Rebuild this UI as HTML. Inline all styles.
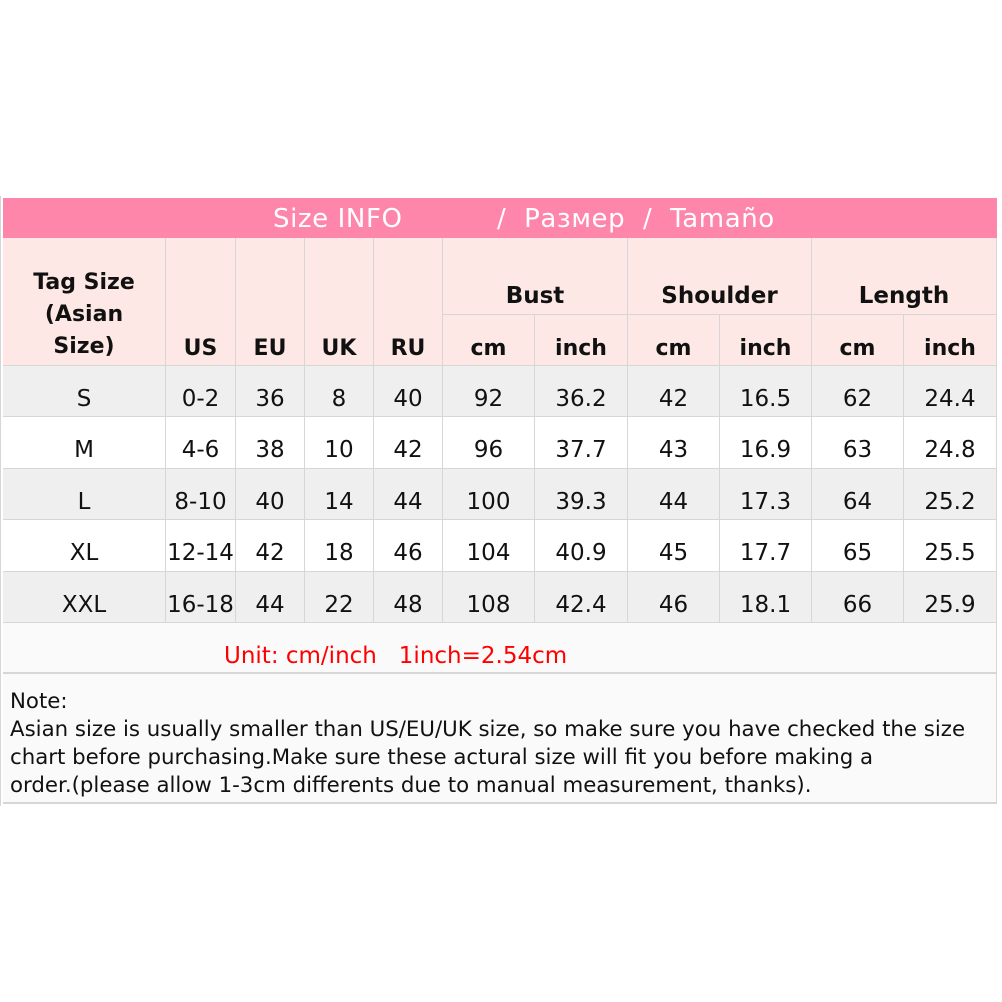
<!DOCTYPE html><html><head><style>
body{margin:0;width:1002px;height:1002px;background:#fff;position:relative;font-family:"DejaVu Sans","Liberation Sans",sans-serif;overflow:hidden}
div{position:absolute;box-sizing:border-box}
.c{display:flex;align-items:center;justify-content:center;font-size:23px;color:#111;border-right:1px solid #d6d6d6;border-bottom:1px solid #d6d6d6}
.d{padding-top:15px}
.h{font-weight:bold;font-size:22px;align-items:flex-end;padding-bottom:4px}
</style></head><body>
<div style="left:0;top:196px;width:1002px;height:610px;border-left:1px solid #d6d6d6"></div>
<div style="left:3px;top:198px;width:994px;height:40px;background:#fe86ab;color:#fff;font-size:26px;line-height:42px;white-space:pre;letter-spacing:0.6px"><span style="position:absolute;left:270px">Size INFO</span><span style="position:absolute;left:494px">/  Размер  /  Tamaño</span></div>
<div style="left:3px;top:238px;width:994px;height:128px;background:#fde8e6"></div>
<div class="c" style="font-weight:bold;font-size:22px;left:3px;top:238px;width:163px;height:128px;flex-direction:column;justify-content:flex-end;align-items:center;text-align:center;line-height:32px;padding-bottom:2px">Tag Size<br>(Asian<br>Size)</div>
<div id="g"></div>
<script>
var cols=[3,166,236,305,374,443,535,628,720,812,904,997];
var s='';
['US','EU','UK','RU'].forEach(function(t,i){s+='<div class="c h" style="left:'+cols[i+1]+'px;top:238px;width:'+(cols[i+2]-cols[i+1])+'px;height:128px">'+t+'</div>'});
['Bust','Shoulder','Length'].forEach(function(t,i){var a=cols[5+2*i],b=cols[7+2*i];s+='<div class="c" style="font-weight:bold;font-size:23px;left:'+a+'px;top:238px;width:'+(b-a)+'px;height:77px;padding-top:40px">'+t+'</div>';});
for(var i=5;i<11;i++)s+='<div class="c h" style="left:'+cols[i]+'px;top:315px;width:'+(cols[i+1]-cols[i])+'px;height:51px">'+(i%2?'cm':'inch')+'</div>';
var d=[['S','0-2',36,8,40,92,'36.2',42,'16.5',62,'24.4'],['M','4-6',38,10,42,96,'37.7',43,'16.9',63,'24.8'],['L','8-10',40,14,44,100,'39.3',44,'17.3',64,'25.2'],['XL','12-14',42,18,46,104,'40.9',45,'17.7',65,'25.5'],['XXL','16-18',44,22,48,108,'42.4',46,'18.1',66,'25.9']];
var ys=[366,417,469,520,572,623];
d.forEach(function(r,j){r.forEach(function(v,i){s+='<div class="c d" style="background:'+(j%2?'#fff':'#efefef')+';left:'+cols[i]+'px;top:'+ys[j]+'px;width:'+(cols[i+1]-cols[i])+'px;height:'+(ys[j+1]-ys[j])+'px">'+v+'</div>'})});
document.getElementById('g').outerHTML=s;
</script>
<div style="left:3px;top:623px;width:994px;height:51px;background:#fafafa;border-right:1px solid #d6d6d6;border-bottom:2px solid #d6d6d6;color:#f00;font-size:23px;line-height:66px;padding-left:221px;white-space:pre">Unit: cm/inch   1inch=2.54cm</div>
<div style="left:3px;top:674px;width:994px;height:130px;background:#fafafa;border-right:1px solid #d6d6d6;border-bottom:2px solid #d6d6d6;color:#111;font-size:21.3px;line-height:28px;padding:14px 0 0 7px;white-space:nowrap;overflow:hidden">Note:<br>Asian size is usually smaller than US/EU/UK size, so make sure you have checked the size<br>chart before purchasing.Make sure these actural size will fit you before making a<br>order.(please allow 1-3cm differents due to manual measurement, thanks).</div>
</body></html>
